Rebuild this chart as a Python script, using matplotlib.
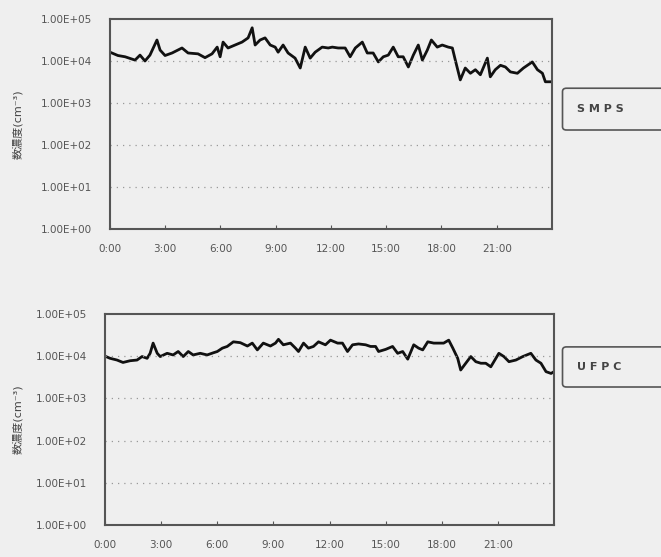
import matplotlib.pyplot as plt
from matplotlib.patches import FancyBboxPatch

plt.rcParams['font.family'] = ['DejaVu Sans', 'Noto Sans CJK JP']

# time of day in hours (particles / cm3)
smps_hours = [0.0, 0.43, 0.82, 1.36, 1.63, 1.90, 2.17, 2.55, 2.72, 2.99, 3.37, 3.91, 4.24,
              4.78, 5.16, 5.54, 5.82, 5.98, 6.14, 6.41, 6.79, 7.17, 7.50, 7.72, 7.88, 8.15,
              8.42, 8.70, 8.97, 9.13, 9.40, 9.67, 10.05, 10.33, 10.60, 10.87, 11.14, 11.52,
              11.85, 12.07, 12.39, 12.77, 13.04, 13.32, 13.70, 13.97, 14.29, 14.57, 14.84,
              15.11, 15.38, 15.65, 15.92, 16.20, 16.47, 16.74, 16.96, 17.23, 17.45, 17.77,
              18.04, 18.37, 18.59, 18.75, 19.02, 19.29, 19.57, 19.84, 20.11, 20.49, 20.65,
              20.92, 21.20, 21.47, 21.74, 22.12, 22.45, 22.93, 23.21, 23.48, 23.64, 24.0]
smps_conc = [16200, 13500, 12600, 10500, 13800, 10000, 13800, 31600, 18200, 13500, 15500,
             20400, 15500, 14800, 12000, 14800, 21400, 12600, 28200, 20400, 24000, 28200,
             35500, 61700, 24000, 31600, 35500, 24000, 21400, 16200, 24000, 15500, 11700,
             6800, 21400, 11700, 16200, 21400, 20400, 21400, 20400, 20400, 12600, 20400,
             28200, 15500, 15500, 9500, 12600, 13800, 21400, 12600, 12600, 7200, 13800,
             24000, 10500, 18200, 31600, 21400, 24000, 21400, 20400, 10500, 3550, 6800,
             5100, 6200, 4700, 11700, 4200, 6200, 7900, 7200, 5500, 5100, 6800, 9500, 6200,
             5100, 3200, 3200]

ufpc_hours = [0.0, 0.27, 0.64, 0.96, 1.34, 1.71, 1.98, 2.25, 2.41, 2.57, 2.79, 2.95, 3.32,
              3.64, 3.91, 4.18, 4.45, 4.71, 5.09, 5.46, 5.78, 6.00, 6.27, 6.53, 6.86, 7.23,
              7.61, 7.87, 8.14, 8.46, 8.84, 9.11, 9.27, 9.53, 9.91, 10.18, 10.34, 10.61,
              10.87, 11.14, 11.41, 11.78, 12.05, 12.43, 12.69, 12.96, 13.23, 13.55, 13.93,
              14.19, 14.46, 14.62, 15.00, 15.37, 15.64, 15.91, 16.18, 16.50, 16.76, 16.98,
              17.25, 17.57, 17.78, 18.10, 18.37, 18.59, 18.85, 19.01, 19.28, 19.55, 19.82,
              20.09, 20.35, 20.62, 20.89, 21.05, 21.32, 21.59, 21.96, 22.33, 22.76, 23.03,
              23.30, 23.57, 23.84, 24.0]
ufpc_conc = [10000, 8900, 8100, 7100, 7800, 8100, 9800, 8900, 11700, 20400, 11700, 9800,
             11700, 10700, 12900, 9800, 12900, 10700, 11700, 10700, 12000, 12900, 15500,
             17000, 21900, 20900, 17400, 20400, 14100, 20400, 17400, 20400, 25100, 18600,
             20400, 15500, 12900, 20400, 15500, 17000, 21900, 18600, 24000, 20400, 20400,
             12900, 18600, 19500, 18600, 17000, 17000, 12900, 14500, 17000, 11700, 12900,
             8500, 18600, 15500, 14100, 21900, 20400, 20400, 20400, 24000, 15500, 8900,
             4700, 6800, 9800, 7400, 6800, 6800, 5600, 8900, 11700, 9800, 7400, 8100, 9800,
             11700, 8100, 6800, 4300, 3900, 4300]

hour_ticks = [0, 3, 6, 9, 12, 15, 18, 21]
hour_labels = ['0:00', '3:00', '6:00', '9:00', '12:00', '15:00', '18:00', '21:00']
y_ticks = [1e0, 1e1, 1e2, 1e3, 1e4, 1e5]
y_labels = ['1.00E+00', '1.00E+01', '1.00E+02', '1.00E+03', '1.00E+04', '1.00E+05']
panel_names = ['S M P S', 'U F P C']

bg = '#efefef'
fig = plt.figure(figsize=(6.61, 5.57), dpi=100, facecolor=bg)

axes_pos = [[0.1664, 0.5889, 0.6687, 0.3770],
            [0.1589, 0.0575, 0.6793, 0.3788]]
box_pos = [[0.851, 0.7666, 0.075], [0.851, 0.3052, 0.072]]
series = [(smps_hours, smps_conc), (ufpc_hours, ufpc_conc)]

for i in range(2):
    ax = fig.add_axes(axes_pos[i])
    ax.set_facecolor(bg)
    x, y = series[i]
    ax.plot(x, y, color='#111111', lw=2.0)
    ax.set_yscale('log')
    ax.set_ylim(1, 1e5)
    ax.set_xlim(0, 24)
    ax.set_yticks(y_ticks)
    ax.set_yticklabels(y_labels)
    ax.minorticks_off()
    ax.set_xticks(hour_ticks)
    ax.set_xticklabels(hour_labels)
    ax.tick_params(axis='both', direction='in', length=3, color='#555555',
                   labelsize=7.5, labelcolor='#555555')
    ax.tick_params(axis='y', length=0, pad=13)
    ax.tick_params(axis='x', pad=11)
    for v in y_ticks[1:-1]:
        ax.axhline(v, color='#999999', lw=0.9, ls=(0, (1, 4)))
    for s in ax.spines.values():
        s.set_color('#555555')
        s.set_linewidth(1.5)

    # y label sits far to the left of the tick labels
    mid = axes_pos[i][1] + axes_pos[i][3] / 2
    fig.text(0.027, mid, '数濃度(cm⁻³)', fontsize=8, color='#444444',
             rotation=90, ha='center', va='center')

    # name box on the right
    bx, by, bh = box_pos[i]
    fig.patches.append(FancyBboxPatch((bx, by), 0.17, bh, transform=fig.transFigure,
                                      boxstyle='round,pad=0,rounding_size=0.006',
                                      fill=False, edgecolor='#555555', lw=1.2))
    fig.text(bx + 0.022, by + bh / 2, panel_names[i], fontsize=8, fontweight='bold',
             color='#444444', va='center', ha='left')

plt.savefig('out.png', dpi=100, facecolor=bg)
